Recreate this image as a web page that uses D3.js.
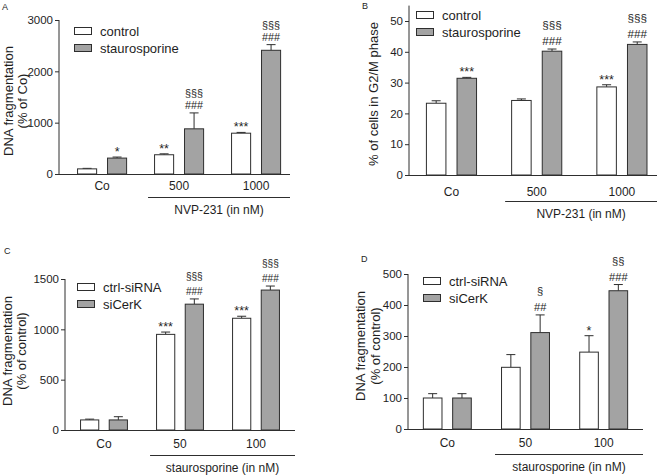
<!DOCTYPE html>
<html><head><meta charset="utf-8">
<script src="https://cdn.jsdelivr.net/npm/d3@7"></script>
<style>body{margin:0;background:#fff}svg{display:block}text{font-family:"Liberation Sans",Arial,sans-serif;fill:#1e1e1e}</style>
</head><body>
<script>
// ---- data ----
const catsNVP = ["Co", "500", "1000"];
const catsStau = ["Co", "50", "100"];
const seriesAB = ["control", "staurosporine"];
const seriesCD = ["ctrl-siRNA", "siCerK"];

const A_control = [100, 375, 795];
const A_controlErr = [10, 18, 15];
const A_stauro = [310, 880, 2410];
const A_stauroErr = [20, 310, 110];
const A_controlSig = [[], ["**"], ["***"]];
const A_stauroSig = [["*"], ["###", "§§§"], ["###", "§§§"]];
const A_ticks = [0, 1000, 2000, 3000];

const B_control = [23.3, 24.2, 28.6];
const B_controlErr = [0.8, 0.5, 0.7];
const B_stauro = [31.4, 40.2, 42.4];
const B_stauroErr = [0.3, 0.7, 0.8];
const B_controlSig = [[], [], ["***"]];
const B_stauroSig = [["***"], ["###", "§§§"], ["###", "§§§"]];
const B_ticks = [0, 10, 20, 30, 40, 50];

const C_ctrl = [100, 950, 1110];
const C_ctrlErr = [8, 23, 20];
const C_si = [100, 1250, 1390];
const C_siErr = [32, 52, 40];
const C_ctrlSig = [[], ["***"], ["***"]];
const C_siSig = [[], ["###", "§§§"], ["###", "§§§"]];
const C_ticks = [0, 500, 1000, 1500];

const D_ctrl = [100, 199, 248];
const D_ctrlErr = [14, 41, 53];
const D_si = [100, 311, 446];
const D_siErr = [14, 57, 20];
const D_ctrlSig = [[], [], ["*"]];
const D_siSig = [[], ["##", "§"], ["###", "§§"]];
const D_ticks = [0, 100, 200, 300, 400, 500];

// ---- drawing ----
const svg = d3.select("body").append("svg").attr("width", 665).attr("height", 476);
const GREY = "#a3a3a3", STROKE = "#2e2e2e";

function panel(o) {
  const g = svg.append("g");
  const x = d3.scaleBand().domain(o.cats).range([o.left, o.right])
    .paddingInner(o.pi).paddingOuter(o.po).align(o.align);
  const xs = d3.scaleBand().domain(o.series).range([0, x.bandwidth()]).paddingInner(0.33);
  const y = d3.scaleLinear().domain([0, o.ymax]).range([o.bottom, o.top]);

  const ya = g.append("g").attr("transform", `translate(${o.left},0)`)
    .call(d3.axisLeft(y).tickValues(o.ticks).tickSize(4).tickPadding(2).tickFormat(d3.format("d")));
  ya.select(".domain").attr("stroke", STROKE).attr("d", `M0,${o.bottom}V${y(o.ymax)}`);
  ya.selectAll(".tick line").attr("stroke", STROKE);
  ya.selectAll(".tick text").attr("font-size", 11.5).attr("fill", "#1e1e1e").style("font-family", '"Liberation Sans",Arial,sans-serif');

  g.append("line").attr("x1", o.left).attr("x2", o.right).attr("y1", o.bottom + 0.5).attr("y2", o.bottom + 0.5)
    .attr("stroke", STROKE).attr("stroke-width", 1);

  o.values.forEach((vals, si) => {
    const fill = si === 0 ? "#fff" : GREY;
    o.cats.forEach((c, ci) => {
      const bx = x(c) + xs(o.series[si]);
      const bw = xs.bandwidth();
      const v = vals[ci], e = o.errs[si][ci];
      const cx = bx + bw / 2;
      g.append("line").attr("x1", cx).attr("x2", cx).attr("y1", y(v)).attr("y2", y(v + e))
        .attr("stroke", STROKE).attr("stroke-width", 1);
      g.append("line").attr("x1", cx - 4.5).attr("x2", cx + 4.5).attr("y1", y(v + e)).attr("y2", y(v + e))
        .attr("stroke", STROKE).attr("stroke-width", 1);
      g.append("rect").attr("x", bx + 0.5).attr("y", y(v)).attr("width", bw - 1).attr("height", o.bottom - y(v))
        .attr("fill", fill).attr("stroke", STROKE).attr("stroke-width", 1);
      const sig = o.sigs[si][ci];
      sig.forEach((s, k) => {
        const isStar = s.indexOf("*") >= 0;
        const t = g.append("text").attr("x", cx).attr("y", y(v + e) - (isStar ? 1 : 4) - k * o.sigGap)
          .attr("text-anchor", "middle").attr("font-size", isStar ? 12.5 : 11).attr("fill", "#1e1e1e").text(s);
        if (!isStar) t.attr("textLength", s.length * o.sigW).attr("lengthAdjust", "spacingAndGlyphs");
      });
    });
  });

  o.cats.forEach(c => {
    g.append("text").attr("x", x(c) + x.bandwidth() / 2).attr("y", o.catY)
      .attr("text-anchor", "middle").attr("font-size", 12).text(c);
  });
  const bx1 = x(o.cats[1]) - 6, bx2 = o.right;
  g.append("line").attr("x1", bx1).attr("x2", bx2).attr("y1", o.lineY + 0.5).attr("y2", o.lineY + 0.5)
    .attr("stroke", STROKE).attr("stroke-width", 1);
  g.append("text").attr("x", (bx1 + bx2) / 2).attr("y", o.lineY + 17)
    .attr("text-anchor", "middle").attr("font-size", 12).text(o.groupLabel);

  o.ytitle.forEach((t, i) => {
    g.append("text").attr("transform", `translate(${o.ytitleX[i]},${o.ytitleY}) rotate(-90)`)
      .attr("text-anchor", "middle").attr("font-size", 13).text(t);
  });

  o.series.forEach((s, i) => {
    const ly = o.legY + i * 17;
    g.append("rect").attr("x", o.legX + 0.5).attr("y", ly + 0.5).attr("width", 17).attr("height", 7)
      .attr("fill", i === 0 ? "#fff" : GREY).attr("stroke", STROKE);
    g.append("text").attr("x", o.legX + 26).attr("y", ly + 8.5).attr("font-size", 13).text(s);
  });

  g.append("text").attr("x", o.letterX).attr("y", o.letterY).attr("font-size", 9).text(o.letter);
}

panel({letter: "A", letterX: 2, letterY: 10,
  cats: catsNVP, series: seriesAB, values: [A_control, A_stauro], errs: [A_controlErr, A_stauroErr],
  sigs: [A_controlSig, A_stauroSig], sigGap: 12, sigW: 6, ticks: A_ticks, ymax: 3000,
  left: 59, right: 290, top: 20, bottom: 174, pi: 0.35, po: 0.175, align: 0.67,
  catY: 190, lineY: 197, groupLabel: "NVP-231 (in nM)",
  ytitle: ["DNA fragmentation", "(% of Co)"], ytitleX: [13, 27], ytitleY: 101,
  legX: 74, legY: 27});

panel({letter: "B", letterX: 362, letterY: 9,
  cats: catsNVP, series: seriesAB, values: [B_control, B_stauro], errs: [B_controlErr, B_stauroErr],
  sigs: [B_controlSig, B_stauroSig], sigGap: 16, sigW: 6.5, ticks: B_ticks, ymax: 55,
  left: 409, right: 657, top: 175 - 55 * 3.08, bottom: 175, pi: 0.40, po: 0.155, align: 0.64,
  catY: 196, lineY: 201, groupLabel: "NVP-231 (in nM)",
  ytitle: ["% of cells in G2/M phase"], ytitleX: [378], ytitleY: 94,
  legX: 416, legY: 11});

panel({letter: "C", letterX: 4, letterY: 254,
  cats: catsStau, series: seriesCD, values: [C_ctrl, C_si], errs: [C_ctrlErr, C_siErr],
  sigs: [C_ctrlSig, C_siSig], sigGap: 15, sigW: 5.6, ticks: C_ticks, ymax: 1500,
  left: 65, right: 295, top: 279, bottom: 430, pi: 0.37, po: 0.198, align: 0.5,
  catY: 448, lineY: 455, groupLabel: "staurosporine (in nM)",
  ytitle: ["DNA fragmentation", "(% of control)"], ytitleX: [12, 26], ytitleY: 351,
  legX: 77, legY: 283});

panel({letter: "D", letterX: 361, letterY: 262,
  cats: catsStau, series: seriesCD, values: [D_ctrl, D_si], errs: [D_ctrlErr, D_siErr],
  sigs: [D_ctrlSig, D_siSig], sigGap: 16, sigW: 6.2, ticks: D_ticks, ymax: 500,
  left: 408, right: 643, top: 274, bottom: 429, pi: 0.374, po: 0.19, align: 0.5,
  catY: 447, lineY: 454, groupLabel: "staurosporine (in nM)",
  ytitle: ["DNA fragmentation", "(% of control)"], ytitleX: [365, 380], ytitleY: 346,
  legX: 423, legY: 277});
</script>
</body></html>
